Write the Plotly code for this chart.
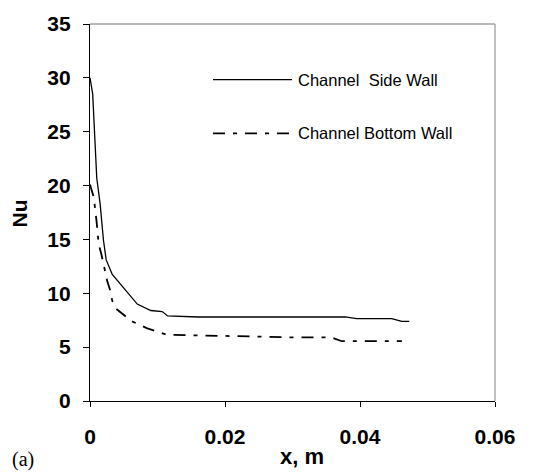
import plotly.graph_objects as go

side_x = [0, 0.0004, 0.001, 0.0013, 0.0015, 0.002, 0.0024, 0.0033, 0.005, 0.007,
          0.009, 0.0107, 0.0115, 0.016, 0.0378, 0.0395, 0.0447, 0.0462, 0.0473]
side_nu = [30, 28.5, 20.7, 19.2, 18.3, 14.9, 13.1, 11.75, 10.5, 9.0,
           8.4, 8.3, 7.9, 7.8, 7.8, 7.65, 7.65, 7.4, 7.4]

bottom_x = [0, 0.00056, 0.00096, 0.0013, 0.00166, 0.00215, 0.00255, 0.003, 0.0033,
            0.0038, 0.0048, 0.0062, 0.0085, 0.0114, 0.0307, 0.0358, 0.0373, 0.0462]
bottom_nu = [20.1, 18.9, 16.75, 14.5, 13.7, 12.2, 11.15, 10.25, 9.3,
             8.6, 8.1, 7.4, 6.75, 6.15, 5.9, 5.9, 5.55, 5.55]

x_ticks = [0, 0.02, 0.04, 0.06]
x_tick_labels = ["0", "0.02", "0.04", "0.06"]
y_ticks = [0, 5, 10, 15, 20, 25, 30, 35]

series_names = ["Channel\u00a0\u00a0Side Wall", "Channel Bottom Wall"]

DASH = "12px,8px,4px,8px"
SANS = "Liberation Sans, Arial, sans-serif"

fig = go.Figure()
fig.add_trace(go.Scatter(x=side_x, y=side_nu, mode="lines",
                         line=dict(color="black", width=1.3), showlegend=False))
fig.add_trace(go.Scatter(x=bottom_x, y=bottom_nu, mode="lines",
                         line=dict(color="black", width=1.8, dash=DASH), showlegend=False))

tickfont = dict(family=SANS, size=21, color="black", weight="bold")

fig.update_layout(
    width=546, height=474,
    margin=dict(l=90, r=51, t=15, b=73),
    paper_bgcolor="white", plot_bgcolor="white",
    showlegend=False,
    xaxis=dict(range=[0, 0.06], tickvals=x_ticks, ticktext=x_tick_labels,
               showgrid=False, zeroline=False, showline=True, linecolor="black",
               linewidth=1.3, ticks="outside", ticklen=5, tickcolor="black",
               tickwidth=1.3, tickfont=tickfont, ticklabelstandoff=12),
    yaxis=dict(range=[0, 35], tickvals=y_ticks,
               showgrid=False, zeroline=False, showline=True, linecolor="black",
               linewidth=1.3, ticks="outside", ticklen=6, tickcolor="black",
               tickwidth=1.3, tickfont=tickfont, ticklabelstandoff=8),
)

# axis titles
fig.add_annotation(xref="paper", yref="paper", x=(302 - 90) / 405, y=(401 - 458) / 386,
                   text="<b>x, m</b>", showarrow=False, xanchor="center", yanchor="middle",
                   font=dict(family=SANS, size=22, color="black"))
fig.add_annotation(xref="paper", yref="paper", x=(19 - 90) / 405, y=(401 - 209) / 386,
                   text="<b>Nu</b>", showarrow=False, xanchor="center", yanchor="middle",
                   textangle=-90, font=dict(family=SANS, size=21, color="black"))

# gray top and right frame
fig.add_shape(type="line", xref="paper", yref="paper", x0=0, x1=1, y0=1, y1=1,
              line=dict(color="#a0a0a0", width=1.3))
fig.add_shape(type="line", xref="paper", yref="paper", x0=1, x1=1, y0=0, y1=1,
              line=dict(color="#a0a0a0", width=1.3))

# manual legend
legend_y = [(401 - 72) / 386, (401 - 127) / 386]
dashes = ["solid", DASH]
widths = [1.3, 1.8]
for name, ly, d, w in zip(series_names, legend_y, dashes, widths):
    fig.add_shape(type="line", xref="paper", yref="paper", x0=(213 - 90) / 405, x1=(292 - 90) / 405,
                  y0=ly, y1=ly, line=dict(color="black", width=w, dash=d))
    fig.add_annotation(xref="paper", yref="paper", x=(296 - 90) / 405, y=ly, text=name,
                       showarrow=False, xanchor="left", yanchor="middle",
                       font=dict(family=SANS, size=16.5, color="black"))

fig.add_annotation(xref="paper", yref="paper", x=(10 - 90) / 405, y=(401 - 461) / 386, text="(a)",
                   showarrow=False, xanchor="left", yanchor="middle",
                   font=dict(family="Liberation Serif, Times New Roman, serif", size=20, color="black"))

fig.write_html("out.html")
